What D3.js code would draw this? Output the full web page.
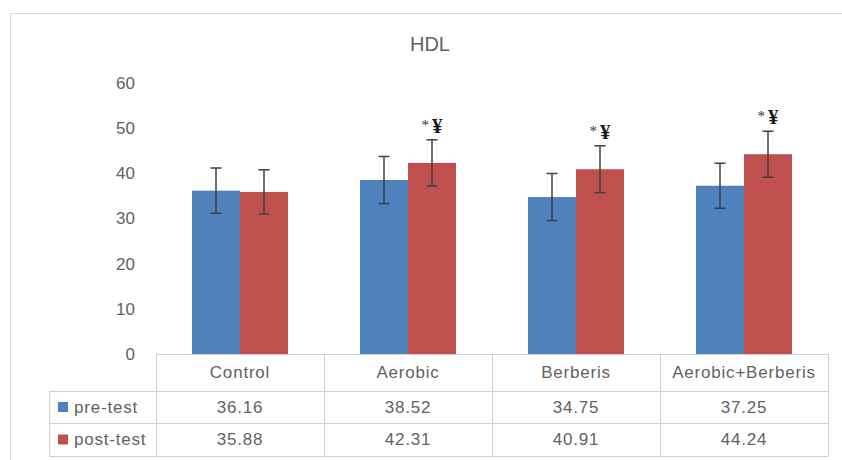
<!DOCTYPE html>
<html>
<head>
<meta charset="utf-8">
<script src="https://cdn.jsdelivr.net/npm/d3@7"></script>
<style>
  body { margin: 0; background: #fff; }
  svg text { font-family: "Liberation Sans", Arial, sans-serif; fill: #626262; }
</style>
</head>
<body>
<div id="chart"></div>
<script>
const categories = ["Control", "Aerobic", "Berberis", "Aerobic+Berberis"];
const seriesNames = ["pre-test", "post-test"];
const preTest = [36.16, 38.52, 34.75, 37.25];
const postTest = [35.88, 42.31, 40.91, 44.24];
const preErr = [5.0, 5.2, 5.2, 5.0];
const postErr = [4.9, 5.1, 5.2, 5.1];
const marks = ["", "*¥", "*¥", "*¥"];
const yTicks = [0, 10, 20, 30, 40, 50, 60];
const colors = ["#4F81BD", "#C0504D"];

const width = 842, height = 460;
const plot = { left: 156, right: 828, top: 83, bottom: 354 };
const rowHead = 49;
const rowLines = [354, 391, 423, 456];

const svg = d3.select("#chart").append("svg")
  .attr("width", width)
  .attr("height", height);

svg.append("rect")
  .attr("width", width).attr("height", height)
  .attr("fill", "#fff");

// outer frame
svg.append("rect")
  .attr("x", 10.5).attr("y", 13.5)
  .attr("width", width + 20).attr("height", height + 20)
  .attr("fill", "none")
  .attr("stroke", "#d9d9d9");

svg.append("text")
  .attr("x", 430).attr("y", 44)
  .attr("dy", "0.35em")
  .attr("text-anchor", "middle")
  .style("font-size", "20px")
  .text("HDL");

const x = d3.scaleBand().domain(categories).range([plot.left, plot.right]);
const xs = d3.scaleBand().domain(seriesNames)
  .range([0, x.bandwidth()])
  .paddingInner(0).paddingOuter(0.75);
const y = d3.scaleLinear().domain([0, 60]).range([plot.bottom, plot.top]);

// y labels, no axis line
const yAxis = svg.append("g")
  .attr("transform", "translate(" + 135 + ",0)")
  .call(d3.axisLeft(y).tickValues(yTicks).tickSize(0).tickPadding(0));
yAxis.select(".domain").remove();
yAxis.selectAll("text")
  .attr("fill", "#626262")
  .style("font-size", "17px")
  .style("font-family", "Liberation Sans, Arial, sans-serif");

const rows = categories.map((c, i) => ({
  cat: c,
  vals: [preTest[i], postTest[i]],
  errs: [preErr[i], postErr[i]],
  mark: marks[i]
}));

const groups = svg.append("g").selectAll("g")
  .data(rows)
  .enter()
  .append("g")
  .attr("transform", (d) => "translate(" + x(d.cat) + ",0)");

groups.selectAll("rect")
  .data((d) => d.vals.map((v, j) => ({ v, s: seriesNames[j], j })))
  .enter()
  .append("rect")
  .attr("x", (d) => xs(d.s))
  .attr("y", (d) => y(d.v))
  .attr("width", xs.bandwidth())
  .attr("height", (d) => y(0) - y(d.v))
  .attr("fill", (d) => colors[d.j]);

// error bars
const cap = 5.5;
groups.selectAll(".err")
  .data((d) => d.vals.map((v, j) => ({ v, e: d.errs[j], s: seriesNames[j] })))
  .enter()
  .append("path")
  .attr("class", "err")
  .attr("d", (d) => {
    const cx = xs(d.s) + xs.bandwidth() / 2;
    const t = y(d.v + d.e), b = y(d.v - d.e);
    return "M" + (cx - cap) + "," + t + "H" + (cx + cap) +
      "M" + cx + "," + t + "V" + b +
      "M" + (cx - cap) + "," + b + "H" + (cx + cap);
  })
  .attr("fill", "none")
  .attr("stroke", "#404040")
  .attr("stroke-width", 1.5);

// significance marks: small star + bold yen
const mk = groups.filter((d) => d.mark !== "")
  .append("text")
  .attr("x", xs("post-test") + xs.bandwidth() / 2)
  .attr("y", (d) => y(d.vals[1] + d.errs[1]) - 7)
  .attr("text-anchor", "middle")
  .style("font-family", "Liberation Serif, Times New Roman, serif")
  .style("font-weight", "bold")
  .style("fill", "#1a1a1a");
mk.append("tspan")
  .style("font-size", "15px")
  .style("font-weight", "normal")
  .style("fill", "#333")
  .attr("dy", "-3")
  .text((d) => d.mark.slice(0, 1));
mk.append("tspan")
  .style("font-size", "21px")
  .style("fill", "#1a1a1a")
  .attr("dx", "3")
  .attr("dy", "3")
  .text((d) => d.mark.slice(1));

// data table
const grid = "#d0d0d0";
const tbl = svg.append("g")
  .attr("stroke", grid)
  .attr("fill", "none");

rowLines.forEach((ly, i) => {
  tbl.append("line")
    .attr("x1", i === 0 ? plot.left : rowHead).attr("x2", plot.right)
    .attr("y1", ly + 0.5).attr("y2", ly + 0.5);
});
tbl.append("line")
  .attr("x1", rowHead + 0.5).attr("x2", rowHead + 0.5)
  .attr("y1", rowLines[1]).attr("y2", rowLines[3]);
categories.concat([null]).forEach((c) => {
  const lx = c === null ? plot.right : x(c);
  tbl.append("line")
    .attr("x1", lx + 0.5).attr("x2", lx + 0.5)
    .attr("y1", rowLines[0]).attr("y2", rowLines[3]);
});

const cellText = (tx, ty, txt, anchor) =>
  svg.append("text")
    .attr("x", tx).attr("y", ty)
    .attr("dy", "0.35em")
    .attr("text-anchor", anchor || "middle")
    .style("font-size", "17px")
    .style("letter-spacing", "0.8px")
    .text(txt);

const rowMid = (k) => (rowLines[k] + rowLines[k + 1]) / 2;

categories.forEach((c) => cellText(x(c) + x.bandwidth() / 2, rowMid(0), c));

const fmt = d3.format(".2f");
[preTest, postTest].forEach((vals, k) => {
  svg.append("rect")
    .attr("x", 58).attr("y", rowMid(k + 1) - 5)
    .attr("width", 10).attr("height", 10)
    .attr("fill", colors[k]);
  cellText(74, rowMid(k + 1), seriesNames[k], "start");
  vals.forEach((v, i) => cellText(x(categories[i]) + x.bandwidth() / 2, rowMid(k + 1), fmt(v)));
});
</script>
</body>
</html>
